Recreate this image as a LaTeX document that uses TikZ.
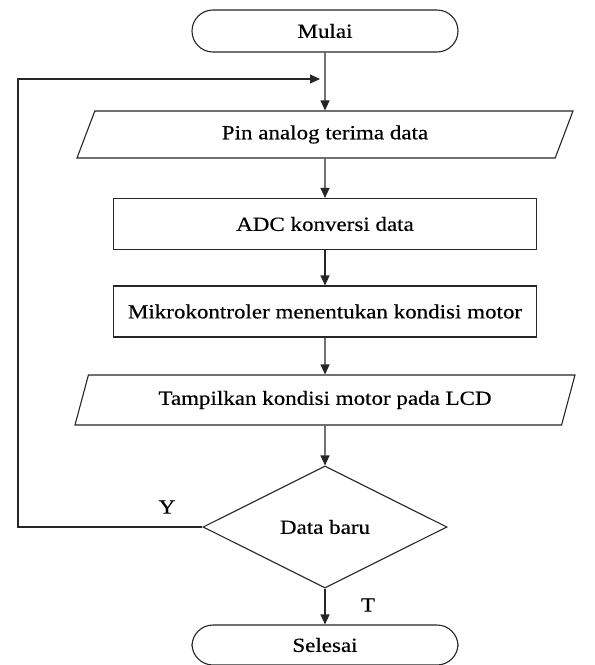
\documentclass[tikz,border=0pt]{standalone}
\usepackage{fontspec}
\setmainfont{Liberation Serif}[FakeStretch=1.15,FakeBold=0.4]
\usetikzlibrary{arrows.meta,shapes.geometric}

\begin{document}
\begin{tikzpicture}[x=1pt,y=-1pt,
        font=\fontsize{20}{24}\selectfont,
        garis/.style={line width=1.1pt,draw=black!85},
        panah/.style={garis,-{Triangle[length=10pt,width=9pt]}},
        terminal/.style={garis,rectangle,rounded corners=21pt,minimum width=266pt,minimum height=42pt,inner sep=0pt},
        proses/.style={garis,rectangle,minimum width=423pt,minimum height=51pt,inner sep=0pt},
        io/.style={garis,trapezium,trapezium stretches body,inner sep=0pt}]
    \fill[white] (0,0) rectangle (595,665);
    \useasboundingbox (0,0) rectangle (595,665);

    \node[terminal] (mulai) at (325,31) {Mulai};
    \node[io,trapezium left angle=45.6,trapezium right angle=134.4,
          minimum width=496pt,minimum height=47pt] (pin) at (325,134.5) {Pin analog terima data};
    \node[proses] (adc) at (325,224) {ADC konversi data};
    \node[proses] (mikro) at (325,311.5) {Mikrokontroler menentukan kondisi motor};
    \node[io,trapezium left angle=53.5,trapezium right angle=126.5,
          minimum width=500pt,minimum height=50pt] (lcd) at (325,400) {Tampilkan kondisi motor pada LCD};
    \node[garis,diamond,aspect=2,minimum width=244pt,minimum height=122pt,inner sep=0pt] (baru) at (325,527) {Data baru};
    \node[terminal,minimum height=40pt] (selesai) at (325,645) {Selesai};

    \node (ya) at (167,507) {Y};
    \node (tidak) at (368,605) {T};

    \coordinate (kiri) at (18,527);
    \coordinate (masuk) at (320,79);

    \draw[panah] (mulai) -- (pin);
    \draw[panah] (pin) -- (adc);
    \draw[panah] (adc) -- (mikro);
    \draw[panah] (mikro) -- (lcd);
    \draw[panah] (lcd) -- (baru);
    \draw[panah] (baru) -- (selesai);
    \draw[panah] (baru.west) -- (kiri) |- (masuk);
\end{tikzpicture}
\end{document}
